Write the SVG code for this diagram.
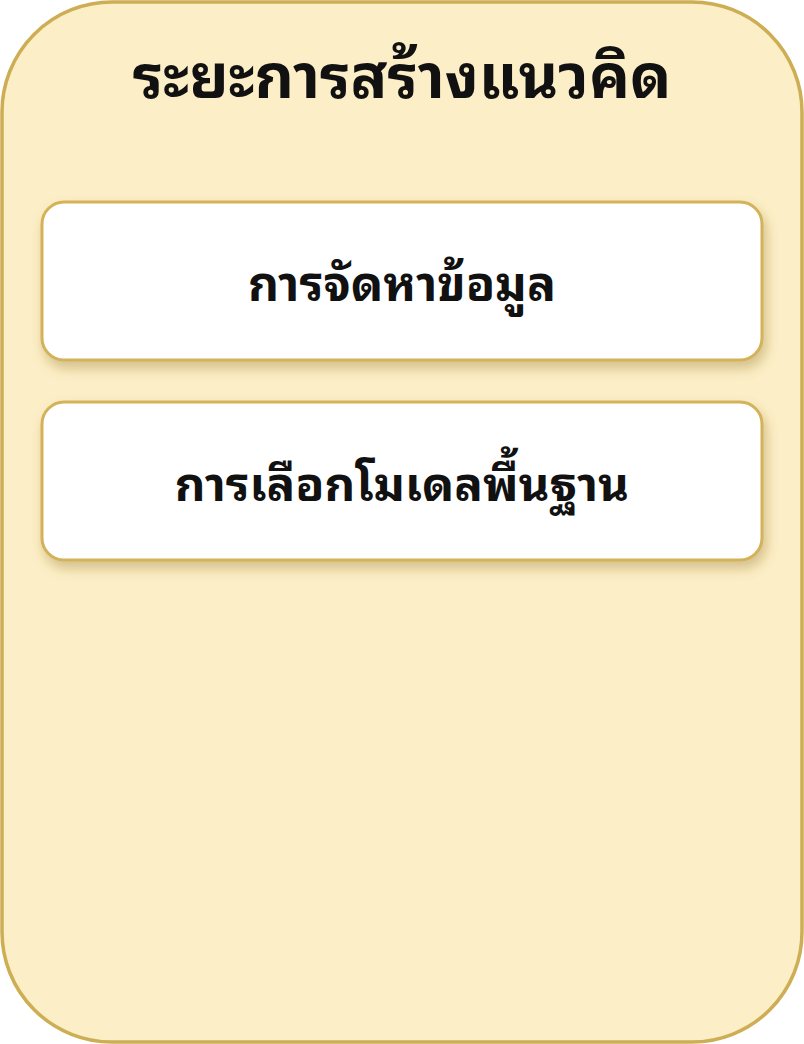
<svg xmlns="http://www.w3.org/2000/svg" width="804" height="1044" viewBox="0 0 804 1044">
<defs>
<filter id="sh" x="-10%" y="-20%" width="120%" height="160%">
<feDropShadow dx="3" dy="7" stdDeviation="6" flood-color="#8a6a20" flood-opacity="0.35"/>
</filter>
<style>
.outer{fill:#FCEEC6;stroke:#CDAE55;stroke-width:3.5}
.box{fill:#FFFFFF;stroke:#D4B25A;stroke-width:3}
.t{font-family:"Noto Sans Thai Looped","Loma","Tlwg Typo","Noto Sans Thai","Noto Sans","Liberation Sans",sans-serif;font-weight:bold;fill:#111;text-anchor:middle}
</style>
</defs>
<g id="phase">
<rect class="outer" x="2" y="2" width="800" height="1040" rx="110" ry="110"/>
<text class="t" x="402" y="98" font-size="61">ระยะการสร้างแนวคิด</text>
</g>
<g id="node1">
<rect class="box" x="42" y="202" width="720" height="158" rx="22" ry="22" filter="url(#sh)"/>
<text class="t" x="402" y="301" font-size="48">การจัดหาข้อมูล</text>
</g>
<g id="node2">
<rect class="box" x="42" y="402" width="720" height="158" rx="22" ry="22" filter="url(#sh)"/>
<text class="t" x="402" y="501" font-size="47.5">การเลือกโมเดลพื้นฐาน</text>
</g>
<g id="connectors"/>
</svg>
